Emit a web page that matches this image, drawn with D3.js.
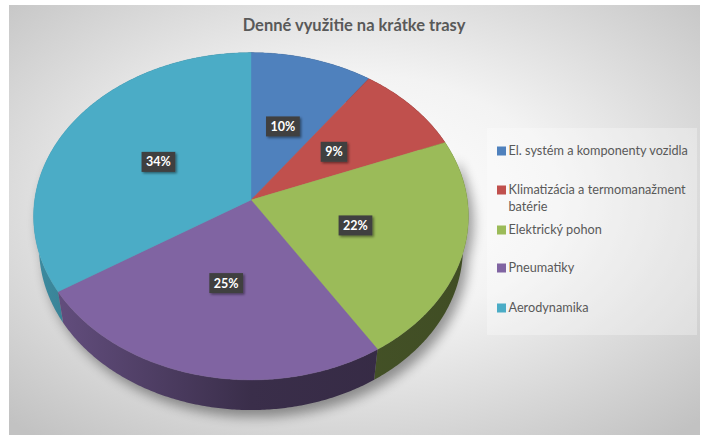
<!DOCTYPE html>
<html>
<head>
<meta charset="utf-8">
<script src="https://cdn.jsdelivr.net/npm/d3@7/dist/d3.min.js"></script>
<style>
  html, body { margin: 0; padding: 0; background: #ffffff; }
  svg { display: block; }
  text { font-family: Lato, "Open Sans", "Liberation Sans", sans-serif; }
</style>
</head>
<body>
<svg id="chart" width="703" height="435"></svg>
<script>
// ---- data ----
const title = "Denné využitie na krátke trasy";
const categories = [
  "El. systém a komponenty vozidla",
  "Klimatizácia a termomanažment batérie",
  "Elektrický pohon",
  "Pneumatiky",
  "Aerodynamika"
];
const values = [10, 9, 22, 25, 34];
const colors = ["#4f81bd", "#c0504d", "#9bbb59", "#8064a2", "#4bacc6"];
// legend text, wrapped into lines
const legendLines = [
  ["El. systém a komponenty vozidla"],
  ["Klimatizácia a termomanažment", "batérie"],
  ["Elektrický pohon"],
  ["Pneumatiky"],
  ["Aerodynamika"]
];

// ---- layout ----
const W = 703, H = 435;
const svg = d3.select("#chart");
const defs = svg.append("defs");

// 3D disc projection (perspective camera looking down at the disc)
const cam = { cx: 251, cy: 200, F: 1443, D: 6.67, elev: 48.5 * Math.PI / 180, thick: 0.2267 };
const sinA = Math.sin(cam.elev), cosA = Math.cos(cam.elev);
function project(theta, rho, h) {
  const u = rho * Math.sin(theta), v = rho * Math.cos(theta);
  const depth = cam.D + v * cosA - h * sinA;
  return [cam.cx + cam.F * u / depth, cam.cy - cam.F * (v * sinA + h * cosA) / depth];
}
function rimPoints(a0, a1, h) {
  const n = Math.max(2, Math.ceil((a1 - a0) / 0.01));
  return d3.range(n + 1).map(i => project(a0 + (a1 - a0) * i / n, 1, h));
}
const line = d3.line();

// background
const bg = defs.append("radialGradient").attr("id", "bgGrad")
  .attr("cx", "50%").attr("cy", "45%").attr("r", "72%");
bg.append("stop").attr("offset", "0").attr("stop-color", "#ffffff");
bg.append("stop").attr("offset", "0.4").attr("stop-color", "#f3f3f3");
bg.append("stop").attr("offset", "0.72").attr("stop-color", "#d9d9d9");
bg.append("stop").attr("offset", "1").attr("stop-color", "#c2c2c2");
svg.append("rect").attr("x", 9).attr("y", 5).attr("width", 691).attr("height", H - 5)
  .attr("fill", "url(#bgGrad)");

// filters
const blur = defs.append("filter").attr("id", "pieShadow")
  .attr("x", "-20%").attr("y", "-20%").attr("width", "140%").attr("height", "140%");
blur.append("feGaussianBlur").attr("stdDeviation", 6);

const lblShadow = defs.append("filter").attr("id", "lblShadow")
  .attr("x", "-30%").attr("y", "-30%").attr("width", "160%").attr("height", "160%");
lblShadow.append("feDropShadow").attr("dx", 1.5).attr("dy", 1.5)
  .attr("stdDeviation", 1.2).attr("flood-color", "#000").attr("flood-opacity", 0.45);

// title
svg.append("text")
  .attr("x", 354).attr("y", 31)
  .attr("text-anchor", "middle")
  .attr("font-size", 16.5).attr("font-weight", 700)
  .attr("fill", "#595959")
  .text(title);

// pie layout: clockwise from 12 o'clock
const arcs = d3.pie().sort(null).startAngle(0).endAngle(2 * Math.PI)(values)
  .map((d, i) => ({ ...d, color: colors[i], name: categories[i] }));

// soft shadow under the disc
const shadowG = svg.append("g").attr("transform", "translate(5,7)")
  .attr("filter", "url(#pieShadow)").attr("opacity", 0.38);
shadowG.append("path").attr("d", line(rimPoints(0, 2 * Math.PI, -cam.thick)) + "Z").attr("fill", "#000");
shadowG.append("path").attr("d", line(rimPoints(Math.PI / 2 - 0.3, 3 * Math.PI / 2 + 0.3, 0)
  .concat(rimPoints(Math.PI / 2 - 0.3, 3 * Math.PI / 2 + 0.3, -cam.thick).reverse())) + "Z").attr("fill", "#000");

// side walls, shaded dark toward the front and right
const pieG = svg.append("g");
const xLeft = project(-Math.PI / 2, 1, 0)[0], xRight = project(Math.PI / 2, 1, 0)[0];
arcs.forEach((d, i) => {
  const base = d3.color(d.color);
  const g = defs.append("linearGradient").attr("id", "side" + i)
    .attr("gradientUnits", "userSpaceOnUse")
    .attr("x1", xLeft).attr("y1", 0).attr("x2", xRight).attr("y2", 0);
  [[0, 0.6], [0.5, 2.2], [1, 2.5]].forEach(([o, k]) =>
    g.append("stop").attr("offset", o).attr("stop-color", base.darker(k).formatHex()));
});
const sideOrder = arcs.slice().sort((a, b) => {
  const da = Math.abs((a.startAngle + a.endAngle) / 2 - Math.PI);
  const db = Math.abs((b.startAngle + b.endAngle) / 2 - Math.PI);
  return db - da;
});
sideOrder.forEach(d => {
  const top = rimPoints(d.startAngle, d.endAngle, 0);
  const bot = rimPoints(d.startAngle, d.endAngle, -cam.thick).reverse();
  pieG.append("path")
    .attr("d", line(top.concat(bot)) + "Z")
    .attr("fill", `url(#side${d.index})`);
});

// top faces
arcs.forEach(d => {
  const pts = [project(0, 0, 0)].concat(rimPoints(d.startAngle, d.endAngle, 0));
  pieG.append("path")
    .attr("d", line(pts) + "Z")
    .attr("fill", d.color)
    .attr("stroke", d.color).attr("stroke-width", 0.4);
});

// data labels
const fmt = d3.format(".0%");
const total = d3.sum(values);
arcs.forEach(d => {
  const [lx, ly] = project((d.startAngle + d.endAngle) / 2, 0.5, 0);
  const g = svg.append("g").attr("transform", `translate(${lx},${ly})`);
  const t = g.append("text")
    .attr("text-anchor", "middle").attr("dy", "0.36em")
    .attr("font-size", 12.5).attr("font-weight", 700)
    .attr("fill", "#ffffff")
    .text(fmt(d.data / total));
  const w = t.node().getComputedTextLength() + 9;
  g.insert("rect", "text")
    .attr("x", -w / 2).attr("y", -10).attr("width", w).attr("height", 20)
    .attr("fill", "#404040").attr("filter", "url(#lblShadow)");
});

// legend
const legend = svg.append("g");
legend.append("rect").attr("x", 487).attr("y", 128).attr("width", 210).attr("height", 207)
  .attr("fill", "#ffffff").attr("opacity", 0.3);
const legendY = [151, 190, 230, 268, 308];
const lineGap = 16.7;
legendLines.forEach((lines, i) => {
  legend.append("rect")
    .attr("x", 497).attr("y", legendY[i] - 4.5).attr("width", 9).attr("height", 9)
    .attr("fill", colors[i]);
  lines.forEach((s, j) => {
    legend.append("text")
      .attr("x", 508.5).attr("y", legendY[i] + j * lineGap).attr("dy", "0.35em")
      .attr("font-size", 12.7).attr("fill", "#595959")
      .text(s);
  });
});
</script>
</body>
</html>
